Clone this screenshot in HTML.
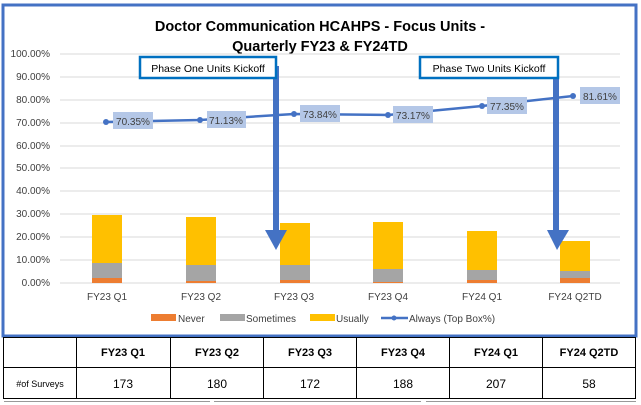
<!DOCTYPE html>
<html><head><meta charset="utf-8"><style>
body{margin:0;background:#fff;}
svg{display:block;font-family:"Liberation Sans",Calibri,sans-serif;}
</style></head><body>
<svg width="641" height="405" viewBox="0 0 641 405" xmlns="http://www.w3.org/2000/svg">
<rect x="0" y="0" width="641" height="405" fill="#fff"/>
<rect x="3" y="5" width="633" height="331" fill="none" stroke="#4472c4" stroke-width="3"/>
<text x="320" y="31" font-size="14.5" font-weight="bold" text-anchor="middle" fill="#000">Doctor Communication HCAHPS - Focus Units -</text>
<text x="320" y="51" font-size="14.5" font-weight="bold" text-anchor="middle" fill="#000">Quarterly FY23 &amp; FY24TD</text>
<g stroke="#d9d9d9" stroke-width="1">
<line x1="60" x2="620" y1="54" y2="54"/><line x1="60" x2="620" y1="77" y2="77"/>
<line x1="60" x2="620" y1="100" y2="100"/><line x1="60" x2="620" y1="123" y2="123"/>
<line x1="60" x2="620" y1="146" y2="146"/><line x1="60" x2="620" y1="168" y2="168"/>
<line x1="60" x2="620" y1="191" y2="191"/><line x1="60" x2="620" y1="214" y2="214"/>
<line x1="60" x2="620" y1="237" y2="237"/><line x1="60" x2="620" y1="260" y2="260"/>
<line x1="60" x2="620" y1="283" y2="283"/>
</g>
<g font-size="10" text-anchor="end" fill="#404040">
<text x="50" y="57">100.00%</text><text x="50" y="80">90.00%</text><text x="50" y="103">80.00%</text>
<text x="50" y="126">70.00%</text><text x="50" y="149">60.00%</text><text x="50" y="171">50.00%</text>
<text x="50" y="194">40.00%</text><text x="50" y="217">30.00%</text><text x="50" y="240">20.00%</text>
<text x="50" y="263">10.00%</text><text x="50" y="286">0.00%</text>
</g>
<g>
<rect x="92" y="215" width="30" height="48" fill="#ffc000"/><rect x="92" y="263" width="30" height="15" fill="#a5a5a5"/><rect x="92" y="278" width="30" height="5" fill="#ed7d31"/>
<rect x="186" y="217" width="30" height="48" fill="#ffc000"/><rect x="186" y="265" width="30" height="16" fill="#a5a5a5"/><rect x="186" y="281" width="30" height="2" fill="#ed7d31"/>
<rect x="280" y="223" width="30" height="42" fill="#ffc000"/><rect x="280" y="265" width="30" height="15" fill="#a5a5a5"/><rect x="280" y="280" width="30" height="3" fill="#ed7d31"/>
<rect x="373" y="222" width="30" height="47" fill="#ffc000"/><rect x="373" y="269" width="30" height="13" fill="#a5a5a5"/><rect x="373" y="282" width="30" height="1" fill="#ed7d31"/>
<rect x="467" y="231" width="30" height="39" fill="#ffc000"/><rect x="467" y="270" width="30" height="10" fill="#a5a5a5"/><rect x="467" y="280" width="30" height="3" fill="#ed7d31"/>
<rect x="560" y="241" width="30" height="30" fill="#ffc000"/><rect x="560" y="271" width="30" height="7" fill="#a5a5a5"/><rect x="560" y="278" width="30" height="5" fill="#ed7d31"/>
</g>
<g font-size="10" text-anchor="middle" fill="#404040">
<text x="107" y="300">FY23 Q1</text><text x="201" y="300">FY23 Q2</text><text x="294" y="300">FY23 Q3</text>
<text x="388" y="300">FY23 Q4</text><text x="482" y="300">FY24 Q1</text><text x="575" y="300">FY24 Q2TD</text>
</g>
<rect x="273" y="66" width="6" height="168" fill="#4472c4"/>
<polygon points="265,230 287,230 276,250" fill="#4472c4"/>
<rect x="553" y="66" width="6" height="168" fill="#4472c4"/>
<polygon points="547,230 569,230 557,250" fill="#4472c4"/>
<polyline points="106,122 200,120 294,114 388,115 482,106 573,96" fill="none" stroke="#4472c4" stroke-width="2.5"/>
<g fill="#4472c4"><circle cx="106" cy="122" r="3"/><circle cx="200" cy="120" r="3"/><circle cx="294" cy="114" r="3"/><circle cx="388" cy="115" r="3"/><circle cx="482" cy="106" r="3"/><circle cx="573" cy="96" r="3"/></g>
<g fill="#b4c7e7"><rect x="113" y="112" width="40" height="17"/><rect x="207" y="111" width="39" height="17"/><rect x="300" y="105" width="40" height="17"/><rect x="393" y="106" width="40" height="17"/><rect x="487" y="97" width="40" height="17"/><rect x="580" y="87" width="40" height="17"/></g>
<g font-size="10" text-anchor="middle" fill="#404040">
<text x="133" y="125">70.35%</text><text x="226" y="124">71.13%</text><text x="320" y="118">73.84%</text><text x="413" y="119">73.17%</text><text x="507" y="110">77.35%</text><text x="600" y="100">81.61%</text>
</g>
<rect x="140" y="57" width="136" height="21" fill="#fff" stroke="#0070c0" stroke-width="2.5"/>
<text x="208" y="72" font-size="10.5" text-anchor="middle" fill="#000">Phase One Units Kickoff</text>
<rect x="420" y="57" width="138" height="21" fill="#fff" stroke="#0070c0" stroke-width="2.5"/>
<text x="489" y="72" font-size="10.5" text-anchor="middle" fill="#000">Phase Two Units Kickoff</text>
<rect x="151" y="314" width="25" height="7" fill="#ed7d31"/><text x="178" y="322" font-size="10" fill="#404040">Never</text>
<rect x="220" y="314" width="25" height="7" fill="#a5a5a5"/><text x="246" y="322" font-size="10" fill="#404040">Sometimes</text>
<rect x="310" y="314" width="25" height="7" fill="#ffc000"/><text x="336" y="322" font-size="10" fill="#404040">Usually</text>
<line x1="381" x2="408" y1="318" y2="318" stroke="#4472c4" stroke-width="2.5"/><circle cx="394" cy="318" r="2.5" fill="#4472c4"/>
<text x="409" y="322" font-size="10" fill="#404040">Always (Top Box%)</text>
<g stroke="#000" stroke-width="1" fill="none">
<rect x="3.5" y="337.5" width="632" height="61"/>
<line x1="3" x2="636" y1="367.5" y2="367.5"/>
<line x1="76.5" x2="76.5" y1="337" y2="399"/><line x1="170.5" x2="170.5" y1="337" y2="399"/>
<line x1="263.5" x2="263.5" y1="337" y2="399"/><line x1="356.5" x2="356.5" y1="337" y2="399"/>
<line x1="449.5" x2="449.5" y1="337" y2="399"/><line x1="542.5" x2="542.5" y1="337" y2="399"/>
</g>
<g stroke="#999" stroke-width="1"><line x1="4" x2="210" y1="401.5" y2="401.5"/><line x1="214" x2="421" y1="401.5" y2="401.5"/><line x1="426" x2="636" y1="401.5" y2="401.5"/></g>
<g font-size="11" font-weight="bold" text-anchor="middle" fill="#000">
<text x="123" y="356">FY23 Q1</text><text x="217" y="356">FY23 Q2</text><text x="310" y="356">FY23 Q3</text>
<text x="403" y="356">FY23 Q4</text><text x="496" y="356">FY24 Q1</text><text x="589" y="356">FY24 Q2TD</text>
</g>
<text x="40" y="387" font-size="9" text-anchor="middle" fill="#000">#of Surveys</text>
<g font-size="12" text-anchor="middle" fill="#000">
<text x="123" y="388">173</text><text x="217" y="388">180</text><text x="310" y="388">172</text>
<text x="403" y="388">188</text><text x="496" y="388">207</text><text x="589" y="388">58</text>
</g>
</svg>
</body></html>
